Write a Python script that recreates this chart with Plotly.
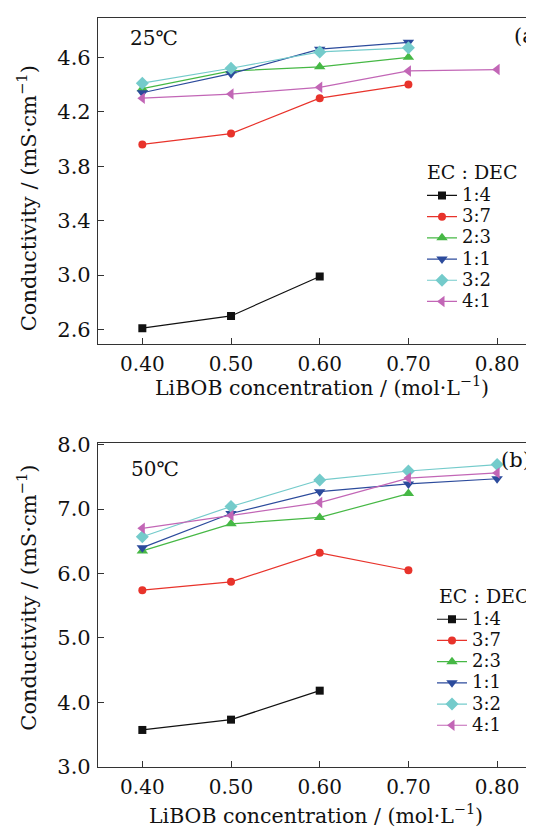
import plotly.graph_objects as go

conc = [0.40, 0.50, 0.60, 0.70, 0.80]
ratios = ["1:4", "3:7", "2:3", "1:1", "3:2", "4:1"]

# (a) 25 °C
a_14 = [2.61, 2.70, 2.99]
a_37 = [3.96, 4.04, 4.30, 4.40]
a_23 = [4.37, 4.50, 4.53, 4.60]
a_11 = [4.34, 4.48, 4.66, 4.71]
a_32 = [4.41, 4.52, 4.64, 4.67]
a_41 = [4.30, 4.33, 4.38, 4.50, 4.51]

# (b) 50 °C
b_14 = [3.57, 3.73, 4.18]
b_37 = [5.74, 5.87, 6.32, 6.05]
b_23 = [6.35, 6.77, 6.87, 7.24]
b_11 = [6.40, 6.93, 7.27, 7.39, 7.47]
b_32 = [6.57, 7.04, 7.45, 7.59, 7.69]
b_41 = [6.70, 6.90, 7.10, 7.48, 7.56]

ticks_a = [2.6, 3.0, 3.4, 3.8, 4.2, 4.6]
ticks_b = [3.0, 4.0, 5.0, 6.0, 7.0, 8.0]

colors = ["#111111", "#e8332b", "#46b845", "#2c4b9c", "#74cbcb", "#c266b6"]
symbols = ["square", "circle", "triangle-up", "triangle-down", "diamond", "triangle-left"]
sizes = [8, 8, 10, 10, 10, 10]

FONT = "DejaVu Serif"

# page geometry (the page body adds an 8 px offset)
L, T, PW, PH = 98, 15, 436, 752


def px(x):
    return (x - L) / PW


def py(y):
    return (T + PH - y) / PH


fig = go.Figure()

series_a = [a_14, a_37, a_23, a_11, a_32, a_41]
series_b = [b_14, b_37, b_23, b_11, b_32, b_41]

for i, (name, ys) in enumerate(zip(ratios, series_a)):
    fig.add_trace(go.Scatter(
        x=conc[:len(ys)], y=ys, mode="lines+markers", name="<span style='font-size:18px'>%s</span>" % name,
        line=dict(color=colors[i], width=1.2),
        marker=dict(symbol=symbols[i], size=sizes[i], color=colors[i]),
        xaxis="x", yaxis="y", legend="legend"))

for i, (name, ys) in enumerate(zip(ratios, series_b)):
    fig.add_trace(go.Scatter(
        x=conc[:len(ys)], y=ys, mode="lines+markers", name="<span style='font-size:18px'>%s</span>" % name,
        line=dict(color=colors[i], width=1.2),
        marker=dict(symbol=symbols[i], size=sizes[i], color=colors[i]),
        xaxis="x2", yaxis="y2", legend="legend2"))

xcommon = dict(range=[0.35, 0.8416], tickvals=conc, tickformat=".2f",
               ticks="inside", ticklen=6, tickcolor="#333", showline=True, linecolor="#333",
               linewidth=1.2, mirror=True, showgrid=False, zeroline=False,
               tickfont=dict(family=FONT, size=20, color="#111"), ticklabelstandoff=2)
ycommon = dict(ticks="inside", ticklen=6, tickcolor="#333", showline=True, linecolor="#333",
               linewidth=1.2, mirror=False, showgrid=False, zeroline=False, tickformat=".1f",
               tickfont=dict(family=FONT, size=21, color="#111"), ticklabelstandoff=2)

fig.update_layout(
    width=526, height=824,
    margin=dict(l=L - 8, r=0, t=T - 8, b=824 - (T - 8) - PH),
    paper_bgcolor="white", plot_bgcolor="white",
    font=dict(family=FONT, color="#111"),
    xaxis=dict(anchor="y", domain=[0, 1], **xcommon),
    yaxis=dict(anchor="x", domain=[py(342), 1], range=[2.496, 4.889], tickvals=ticks_a, **ycommon),
    xaxis2=dict(anchor="y2", domain=[0, 1], **xcommon),
    yaxis2=dict(anchor="x2", domain=[0, py(441.7)], range=[2.995, 8.025], tickvals=ticks_b, **ycommon),
    legend=dict(x=px(422), y=py(177.5), xanchor="left", yanchor="top", bgcolor="rgba(0,0,0,0)",
                font=dict(family=FONT, size=14, color="#111"), itemwidth=30, tracegroupgap=0),
    legend2=dict(x=px(432), y=py(603), xanchor="left", yanchor="top", bgcolor="rgba(0,0,0,0)",
                 font=dict(family=FONT, size=14, color="#111"), itemwidth=30, tracegroupgap=0),
)

ann = [
    dict(text="25℃", x=px(128), y=py(35), xanchor="left", yanchor="middle", font=dict(size=20)),
    dict(text="(a)", x=px(512), y=py(33), xanchor="left", yanchor="middle", font=dict(size=21)),
    dict(text="50℃", x=px(129), y=py(468), xanchor="left", yanchor="middle", font=dict(size=20)),
    dict(text="(b)", x=px(499), y=py(459), xanchor="left", yanchor="middle", font=dict(size=21)),
    dict(text="EC : DEC", x=px(425), y=py(170), xanchor="left", yanchor="middle", font=dict(size=19)),
    dict(text="EC : DEC", x=px(437), y=py(595), xanchor="left", yanchor="middle", font=dict(size=19)),
    dict(text="LiBOB concentration / (mol·L<sup>−1</sup>)", x=px(322), y=py(385),
         xanchor="center", yanchor="middle", font=dict(size=20.5)),
    dict(text="LiBOB concentration / (mol·L<sup>−1</sup>)", x=px(316), y=py(815),
         xanchor="center", yanchor="middle", font=dict(size=20.5)),
    dict(text="Conductivity / (mS·cm<sup>−1</sup>)", x=px(27), y=py(196),
         xanchor="center", yanchor="middle", textangle=-90, font=dict(size=21)),
    dict(text="Conductivity / (mS·cm<sup>−1</sup>)", x=px(27), y=py(597),
         xanchor="center", yanchor="middle", textangle=-90, font=dict(size=21)),
]
for a in ann:
    a.update(xref="paper", yref="paper", showarrow=False)
    a["font"].update(family=FONT, color="#111")
fig.update_layout(annotations=ann)

fig.write_html("out.html")
